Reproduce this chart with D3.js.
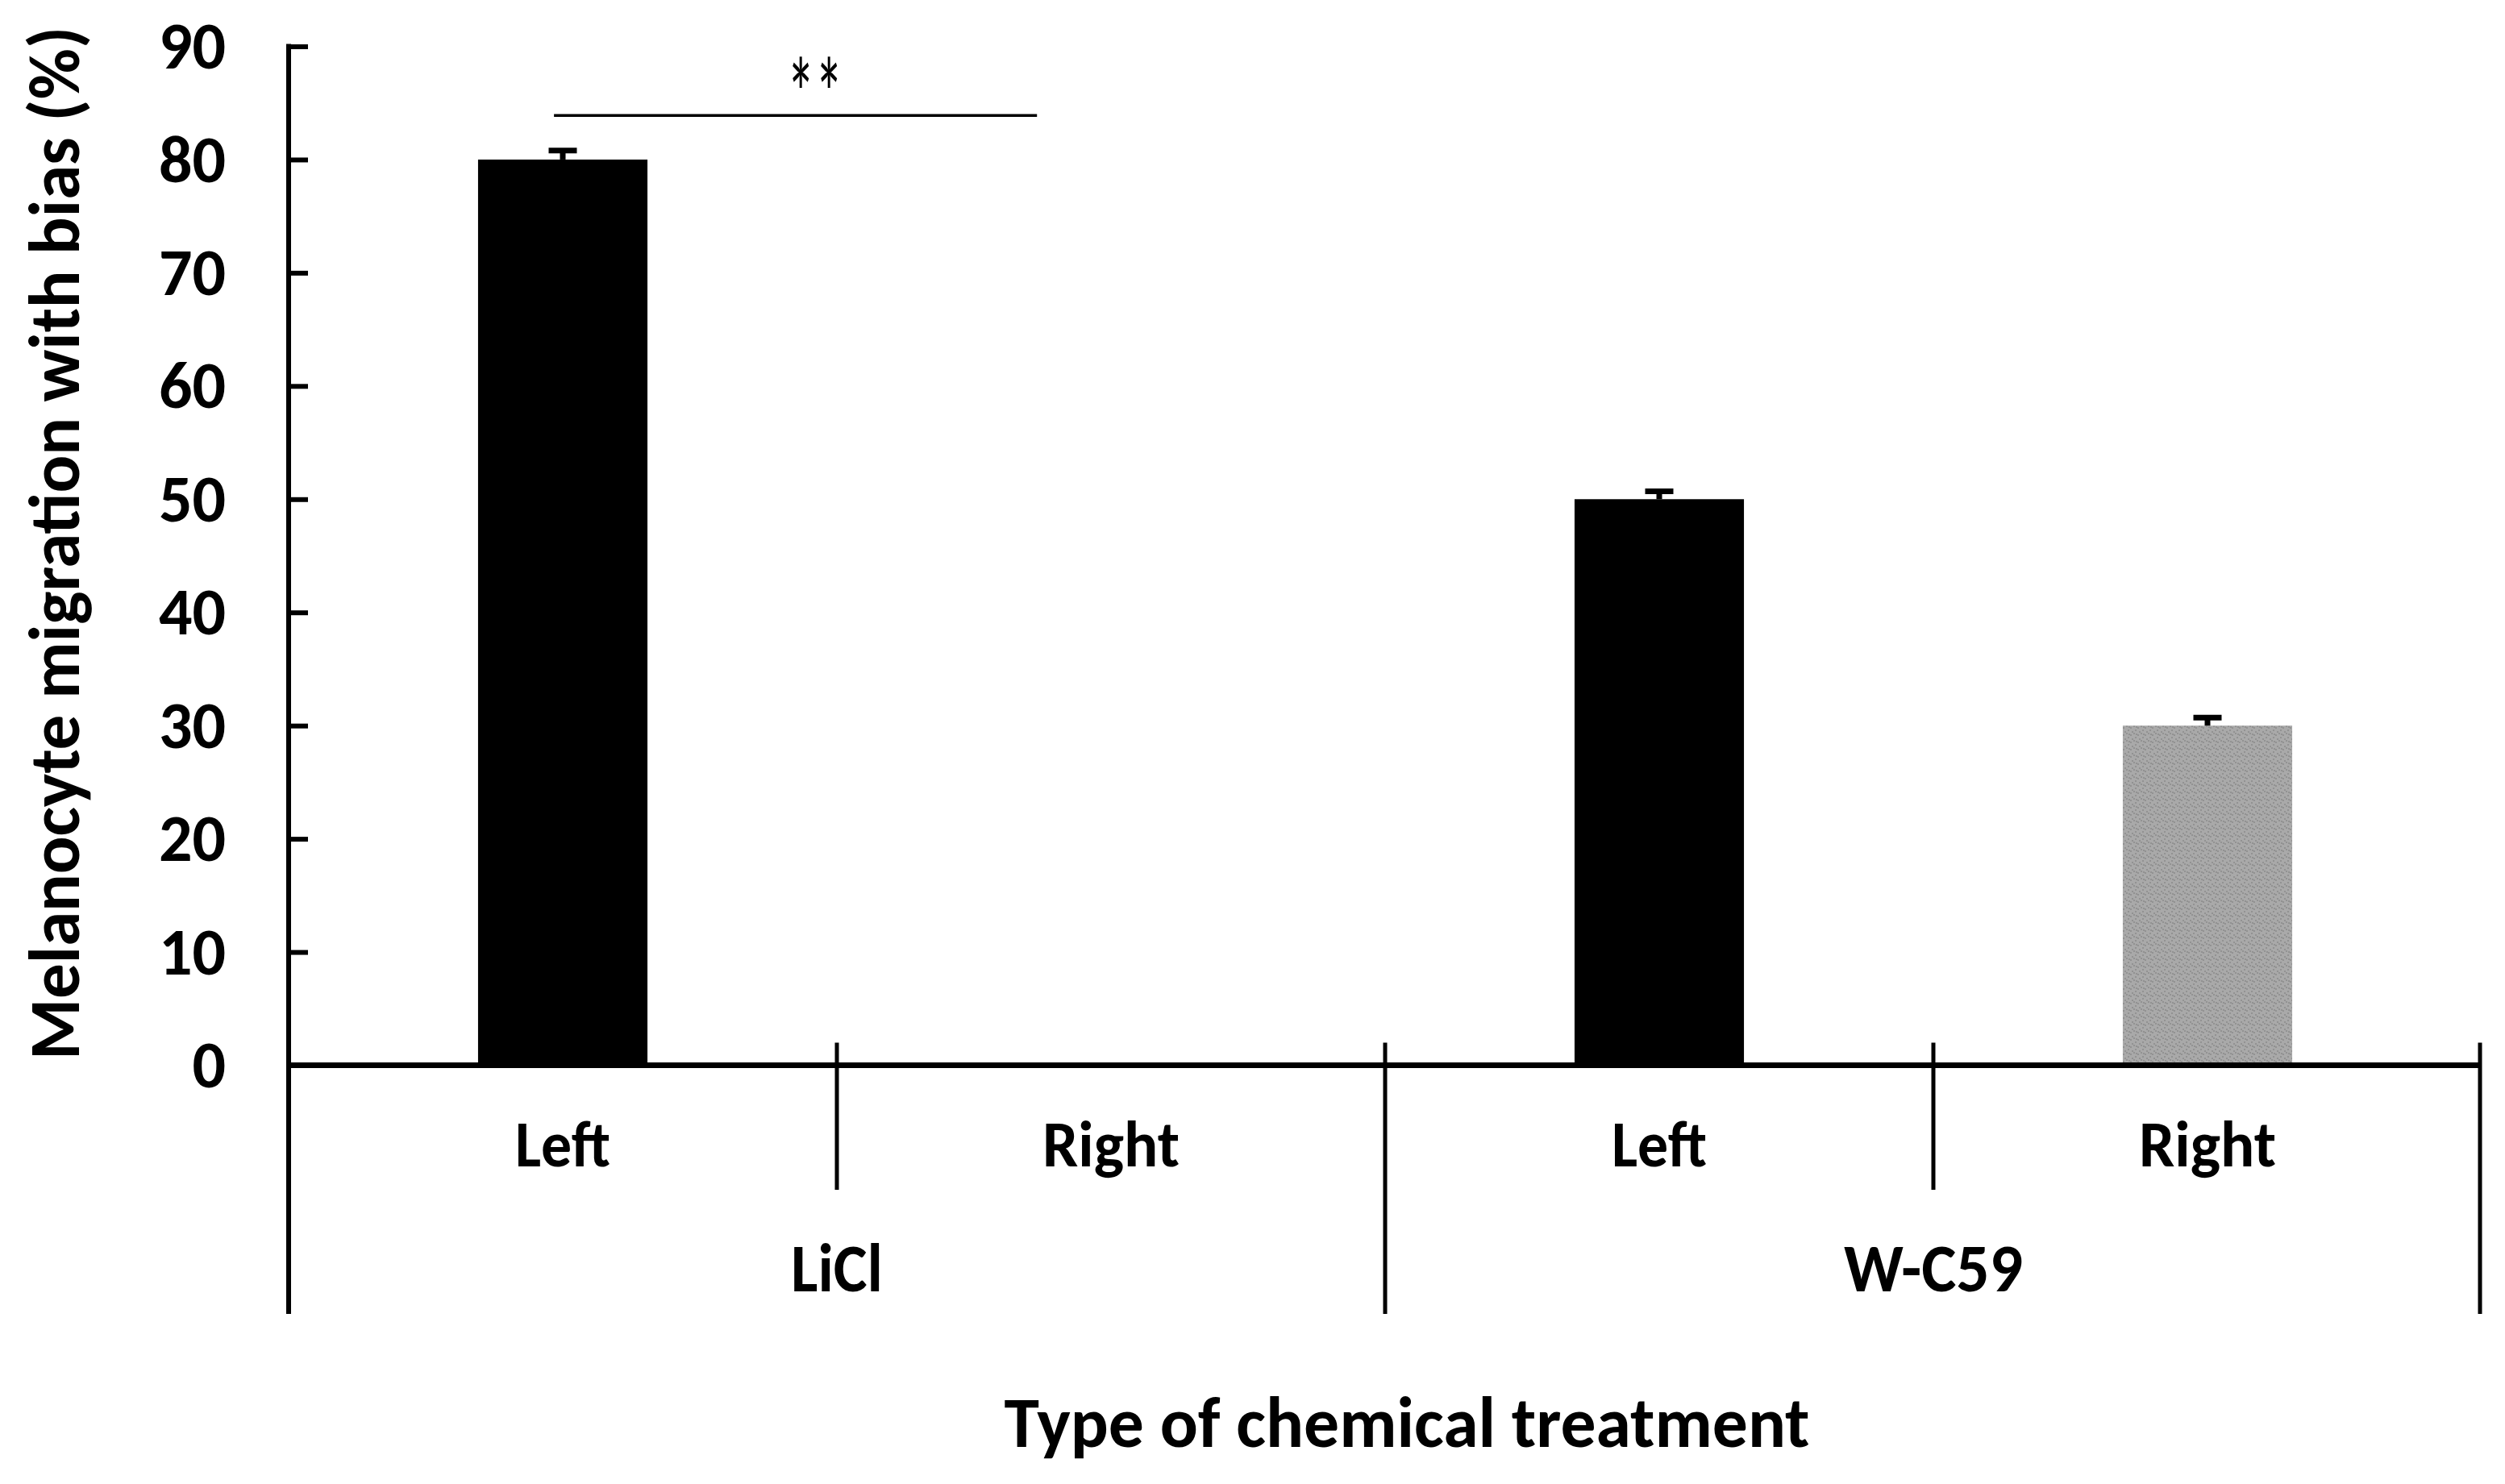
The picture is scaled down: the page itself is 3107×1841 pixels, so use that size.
<!DOCTYPE html>
<html>
<head>
<meta charset="utf-8">
<script src="https://cdn.jsdelivr.net/npm/d3@7"></script>
<style>
	html, body { margin: 0; padding: 0; background: #fff; }
	svg { display: block; }
	text { font-family: Carlito, Calibri, 'Open Sans', sans-serif; fill: #000; }
</style>
</head>
<body>
<div id="chart"></div>
<script>

var groups = [ 'LiCl', 'W-C59' ];
var sides = [ 'Left', 'Right' ];
var values = [ 80, 0, 50, 30 ];
var errors = [ 0.8, 0, 0.7, 0.7 ];
var yTicks = [ 0, 10, 20, 30, 40, 50, 60, 70, 80, 90 ];
var sigFrom = 'LiCl|Left';
var sigTo = 'LiCl|Right';
var sigLevel = 83.9;
var sigLabel = '**';
var yTitle = 'Melanocyte migration with bias (%)';
var xTitle = 'Type of chemical treatment';

var chart = {
	width: 3107,
	height: 1841,
	left: 358,
	right: 3078,
	top: 57.5,
	bottom: 1321.5,
	barRatio: 0.309
};

var categories = [];
groups.forEach( function ( g ) {
	sides.forEach( function ( s ) {
		categories.push( g + '|' + s );
	} );
} );

var rows = categories.map( function ( c, i ) {
	var parts = c.split( '|' );
	return { key: c, group: parts[0], side: parts[1], value: values[i], error: errors[i] };
} );

var x = d3.scaleBand()
	.domain( categories )
	.range( [ chart.left, chart.right ] )
	.paddingInner( 0 )
	.paddingOuter( 0 );

var y = d3.scaleLinear()
	.domain( [ 0, 90 ] )
	.range( [ chart.bottom, chart.top ] );

var bw = x.bandwidth();
var barW = bw * chart.barRatio;

var svg = d3.select( '#chart' ).append( 'svg' )
	.attr( 'width', chart.width )
	.attr( 'height', chart.height );

svg.append( 'rect' )
	.attr( 'width', chart.width )
	.attr( 'height', chart.height )
	.attr( 'fill', '#fff' );

// stippled grey fill, like the office export
var pat = svg.append( 'defs' ).append( 'pattern' )
	.attr( 'id', 'stipple' )
	.attr( 'patternUnits', 'userSpaceOnUse' )
	.attr( 'width', 9 )
	.attr( 'height', 9 );
pat.append( 'rect' ).attr( 'width', 9 ).attr( 'height', 9 ).attr( 'fill', '#a9a9a9' );
[ [ 0, 0 ], [ 5, 2 ], [ 2, 5 ], [ 7, 7 ], [ 3, 1 ] ].forEach( function ( p ) {
	pat.append( 'rect' )
		.attr( 'x', p[0] ).attr( 'y', p[1] )
		.attr( 'width', 2 ).attr( 'height', 2 )
		.attr( 'fill', '#929292' );
} );

// bars
svg.append( 'g' ).selectAll( 'rect' )
	.data( rows.filter( function ( d ) { return d.value > 0; } ) )
	.enter().append( 'rect' )
	.attr( 'x', function ( d ) { return x( d.key ) + ( bw - barW ) / 2; } )
	.attr( 'y', function ( d ) { return y( d.value ); } )
	.attr( 'width', barW )
	.attr( 'height', function ( d ) { return y( 0 ) - y( d.value ); } )
	.attr( 'fill', function ( d ) { return d.side === 'Left' ? '#000' : 'url(#stipple)'; } );

// error bars (upper only)
var eb = svg.append( 'g' ).selectAll( 'g' )
	.data( rows.filter( function ( d ) { return d.error > 0; } ) )
	.enter().append( 'g' )
	.attr( 'stroke', '#000' )
	.attr( 'stroke-width', 7 );
eb.append( 'line' )
	.attr( 'x1', function ( d ) { return x( d.key ) + bw / 2; } )
	.attr( 'x2', function ( d ) { return x( d.key ) + bw / 2; } )
	.attr( 'y1', function ( d ) { return y( d.value ); } )
	.attr( 'y2', function ( d ) { return y( d.value + d.error ); } );
eb.append( 'line' )
	.attr( 'x1', function ( d ) { return x( d.key ) + bw / 2 - 17.5; } )
	.attr( 'x2', function ( d ) { return x( d.key ) + bw / 2 + 17.5; } )
	.attr( 'y1', function ( d ) { return y( d.value + d.error ); } )
	.attr( 'y2', function ( d ) { return y( d.value + d.error ); } );

// y axis
var yAxis = d3.axisLeft( y )
	.tickValues( yTicks )
	.tickSize( -24 )
	.tickPadding( 78 )
	.tickSizeOuter( 0 );

var yG = svg.append( 'g' )
	.attr( 'transform', 'translate(' + chart.left + ',0)' )
	.call( yAxis );
yG.select( '.domain' ).remove();
yG.selectAll( '.tick line' ).attr( 'stroke', '#000' ).attr( 'stroke-width', 6 );
yG.selectAll( '.tick text' )
	.attr( 'font-size', 82 )
	.attr( 'font-weight', 'bold' )
	.attr( 'font-family', "Carlito, Calibri, 'Open Sans', sans-serif" )
	.attr( 'fill', '#000' )
	.attr( 'dy', '0.33em' );

svg.append( 'line' )
	.attr( 'x1', chart.left ).attr( 'x2', chart.left )
	.attr( 'y1', y( 90 ) - 3 ).attr( 'y2', 1630 )
	.attr( 'stroke', '#000' ).attr( 'stroke-width', 6 );

// x axis line and category separators
svg.append( 'line' )
	.attr( 'x1', chart.left ).attr( 'x2', chart.right )
	.attr( 'y1', y( 0 ) ).attr( 'y2', y( 0 ) )
	.attr( 'stroke', '#000' ).attr( 'stroke-width', 7 );

var seps = svg.append( 'g' ).attr( 'stroke', '#000' ).attr( 'stroke-width', 5 );
categories.forEach( function ( c, i ) {
	if ( i === 0 ) { return; }
	var isGroupEdge = i % sides.length === 0;
	seps.append( 'line' )
		.attr( 'x1', x( c ) ).attr( 'x2', x( c ) )
		.attr( 'y1', y( 0 ) - 28 )
		.attr( 'y2', isGroupEdge ? 1630 : 1476 );
} );
seps.append( 'line' )
	.attr( 'x1', chart.right - 2 ).attr( 'x2', chart.right - 2 )
	.attr( 'y1', y( 0 ) - 28 )
	.attr( 'y2', 1630 );

// category labels
svg.append( 'g' ).selectAll( 'text' )
	.data( rows )
	.enter().append( 'text' )
	.attr( 'x', function ( d ) { return x( d.key ) + bw / 2; } )
	.attr( 'y', 1447 )
	.attr( 'text-anchor', 'middle' )
	.attr( 'font-size', 81 )
	.attr( 'font-weight', 'bold' )
	.attr( 'textLength', function ( d ) { return d.side === 'Left' ? 118 : 170; } )
	.attr( 'lengthAdjust', 'spacingAndGlyphs' )
	.text( function ( d ) { return d.side; } );

svg.append( 'g' ).selectAll( 'text' )
	.data( groups )
	.enter().append( 'text' )
	.attr( 'x', function ( g ) {
		return ( x( g + '|' + sides[0] ) + x( g + '|' + sides[sides.length - 1] ) + bw ) / 2;
	} )
	.attr( 'y', 1602 )
	.attr( 'text-anchor', 'middle' )
	.attr( 'font-size', 84 )
	.attr( 'font-weight', 'bold' )
	.attr( 'textLength', function ( g ) { return g === 'LiCl' ? 114 : 222; } )
	.attr( 'lengthAdjust', 'spacingAndGlyphs' )
	.text( function ( g ) { return g; } );

// significance bracket
var sx1 = x( sigFrom ) + bw * 0.484;
var sx2 = x( sigTo ) + bw * 0.365;

svg.append( 'line' )
	.attr( 'x1', sx1 ).attr( 'x2', sx2 )
	.attr( 'y1', y( sigLevel ) ).attr( 'y2', y( sigLevel ) )
	.attr( 'stroke', '#000' ).attr( 'stroke-width', 3.5 );

svg.append( 'text' )
	.attr( 'x', ( sx1 + sx2 ) / 2 + 24 )
	.attr( 'y', y( sigLevel ) + 18 )
	.attr( 'text-anchor', 'middle' )
	.attr( 'font-size', 128 )
	.attr( 'textLength', 70 )
	.attr( 'lengthAdjust', 'spacingAndGlyphs' )
	.text( sigLabel );

// axis titles
svg.append( 'text' )
	.attr( 'transform', 'translate(98,674) rotate(-90)' )
	.attr( 'text-anchor', 'middle' )
	.attr( 'font-size', 89 )
	.attr( 'font-weight', 'bold' )
	.attr( 'textLength', 1282 )
	.attr( 'lengthAdjust', 'spacingAndGlyphs' )
	.text( yTitle );

svg.append( 'text' )
	.attr( 'x', 1745 )
	.attr( 'y', 1795 )
	.attr( 'text-anchor', 'middle' )
	.attr( 'font-size', 89 )
	.attr( 'font-weight', 'bold' )
	.attr( 'textLength', 999 )
	.attr( 'lengthAdjust', 'spacingAndGlyphs' )
	.text( xTitle );

</script>
</body>
</html>
